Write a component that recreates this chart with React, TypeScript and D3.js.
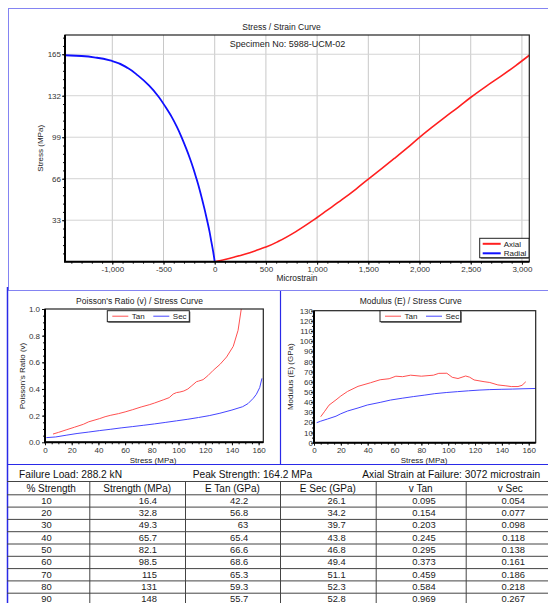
import React, { useEffect, useRef } from "react";
import * as d3 from "d3";

const W = 548;
const H = 603;
const FONT = "'Liberation Sans', Arial, Helvetica, sans-serif";

// ---- Stress / Strain curve ----
const axialStrain = [0, 100, 200, 300, 400, 500, 628, 800, 959, 1100, 1242, 1380, 1500, 1630, 1754, 1880, 1994, 2120, 2250, 2380, 2505, 2650, 2803, 2940, 3072];
const axialStress = [0, 1.8, 3.9, 6.2, 8.8, 11.6, 16.4, 24.3, 32.8, 41, 49.3, 57.8, 65.7, 74, 82.1, 90.5, 98.5, 106.8, 115, 123, 131, 139.5, 148, 156, 164.2];
const radialStrain = [0, -15, -34, -52, -74, -97, -122, -148, -177, -208, -242, -280, -321, -368, -419, -480, -546, -640, -748, -845, -1000, -1150, -1300, -1462];
const radialStress = [0, 8, 16.4, 24.5, 32.8, 41, 49.3, 57.5, 65.7, 74, 82.1, 90.3, 98.5, 107, 115, 123, 131, 140, 148, 153.8, 159.6, 162.2, 163.6, 164.2];
const strainTicks = [-1000, -500, 0, 500, 1000, 1500, 2000, 2500, 3000];
const stressTicks = [33, 66, 99, 132, 165];

// ---- Poisson's ratio / stress ----
const poisTanStress = [6, 10, 16.4, 22, 28.7, 32.8, 41, 45, 49.3, 55, 60, 65.7, 72, 78.5, 82.1, 88.5, 93, 96, 98.5, 101, 104, 107, 110, 113.5, 115, 118.4, 122, 126, 131, 136, 141, 144.6, 147, 149];
const poisTanValue = [0.062, 0.074, 0.095, 0.113, 0.135, 0.154, 0.178, 0.192, 0.203, 0.215, 0.228, 0.245, 0.265, 0.283, 0.295, 0.318, 0.335, 0.362, 0.373, 0.377, 0.385, 0.4, 0.425, 0.455, 0.459, 0.47, 0.5, 0.54, 0.584, 0.64, 0.72, 0.84, 1.0, 1.12];
const poisSecStress = [1, 8, 16.4, 24, 32.8, 41, 49.3, 57, 65.7, 74, 82.1, 90, 98.5, 107, 115, 123, 131, 140, 148, 152, 156, 158.3, 160.8, 162.5];
const poisSecValue = [0.035, 0.04, 0.054, 0.066, 0.077, 0.088, 0.098, 0.108, 0.118, 0.128, 0.138, 0.149, 0.161, 0.173, 0.186, 0.2, 0.218, 0.242, 0.267, 0.29, 0.33, 0.36, 0.41, 0.48];
const poisTicksY = [0, 0.2, 0.4, 0.6, 0.8, 1.0];
const stressTicksX = [0, 20, 40, 60, 80, 100, 120, 140, 160];

// ---- Modulus / stress ----
const modTanStress = [5, 8, 11.2, 16.4, 20, 25, 32.8, 42, 49.3, 56, 61, 66, 72, 80, 89, 93, 99, 103, 107.3, 113, 116, 119.3, 126.7, 131, 137, 143, 147, 152, 155, 157.8];
const modTanValue = [25.6, 31, 37, 42.2, 46, 50.5, 55.5, 59, 62, 63, 65.5, 65, 66.5, 65.5, 66.5, 68.3, 68.4, 64.4, 63.2, 65.7, 64.5, 61.8, 60.1, 59.3, 56.9, 56, 55.3, 55.3, 56.5, 60];
const modSecStress = [2, 5, 10, 16.4, 20, 25, 32.8, 39.7, 49.3, 57, 65.7, 74, 82.1, 90, 98.5, 107, 115, 123, 131, 140, 148, 155, 165];
const modSecValue = [19.7, 21.2, 23.3, 26.1, 28.5, 31.2, 34.2, 37.1, 39.7, 42, 43.8, 45.4, 46.8, 48.3, 49.4, 50.3, 51.1, 51.8, 52.3, 52.6, 52.8, 53.1, 53.4];
const modTicksY = [0, 10, 20, 30, 40, 50, 60, 70, 80, 90, 100, 110, 120, 130];

// ---- Results table ----
const summary = ["Failure Load: 288.2 kN", "Peak Strength: 164.2 MPa", "Axial Strain at Failure: 3072 microstrain"];
const tableHeaders = ["% Strength", "Strength (MPa)", "E Tan (GPa)", "E Sec (GPa)", "v Tan", "v Sec"];
const pctStrength = [10, 20, 30, 40, 50, 60, 70, 80, 90];
const strengthMPa = [16.4, 32.8, 49.3, 65.7, 82.1, 98.5, 115, 131, 148];
const eTan = [42.2, 56.8, 63, 65.4, 66.6, 68.6, 65.3, 59.3, 55.7];
const eSec = [26.1, 34.2, 39.7, 43.8, 46.8, 49.4, 51.1, 52.3, 52.8];
const vTan = [0.095, 0.154, 0.203, 0.245, 0.295, 0.373, 0.459, 0.584, 0.969];
const vSec = [0.054, 0.077, 0.098, 0.118, 0.138, 0.161, 0.186, 0.218, 0.267];

const RED = "#ff2020";
const BLUE = "#1010ff";
const LRED = "#ff5050";
const LBLUE = "#4545ff";

function drawChart(root, cfg) {
  const { id, x, y, xMajor, xMinor, yMajor, yMinor, xFmt, yFmt, grid, series, yPad } = cfg;
  const [x0, x1] = x.range();
  const [y1, y0] = y.range();
  const g = root.append("g");

  g.append("clipPath").attr("id", id).append("rect")
    .attr("x", x0).attr("y", y0).attr("width", x1 - x0).attr("height", y1 - y0);

  g.append("rect").attr("x", x0).attr("y", y0).attr("width", x1 - x0).attr("height", y1 - y0).attr("fill", "#fff");

  if (grid) {
    g.selectAll(".vg").data(xMajor).enter().append("line")
      .attr("x1", d => x(d)).attr("x2", d => x(d)).attr("y1", y0).attr("y2", y1)
      .attr("stroke", "#c8c8c8").attr("stroke-width", 1);
    g.selectAll(".hg").data(yMajor).enter().append("line")
      .attr("y1", d => y(d)).attr("y2", d => y(d)).attr("x1", x0).attr("x2", x1)
      .attr("stroke", "#d4d4d4").attr("stroke-width", 1);
  }

  for (const s of series) {
    const pts = s.xs.map((v, i) => [v, s.ys[i]]);
    g.append("path")
      .attr("clip-path", `url(#${id})`)
      .attr("d", d3.line().curve(s.curve || d3.curveLinear).x(d => x(d[0])).y(d => y(d[1]))(pts))
      .attr("fill", "none").attr("stroke", s.color).attr("stroke-width", s.width)
      .attr("stroke-linejoin", "round");
  }

  // axes
  const styleAxis = (a) => {
    a.select(".domain").remove();
    a.selectAll("line").attr("stroke", "#111");
    a.selectAll("text").attr("font-family", FONT).attr("font-size", 8).attr("fill", "#333");
  };
  g.append("g").attr("transform", `translate(0,${y1})`)
    .call(d3.axisBottom(x).tickValues(xMinor).tickSize(2).tickFormat(() => "")).call(styleAxis);
  g.append("g").attr("transform", `translate(0,${y1})`)
    .call(d3.axisBottom(x).tickValues(xMajor).tickSize(3).tickPadding(2).tickFormat(xFmt)).call(styleAxis);
  g.append("g").attr("transform", `translate(${x0},0)`)
    .call(d3.axisLeft(y).tickValues(yMinor).tickSize(2).tickFormat(() => "")).call(styleAxis);
  g.append("g").attr("transform", `translate(${x0},0)`)
    .call(d3.axisLeft(y).tickValues(yMajor).tickSize(3).tickPadding(yPad).tickFormat(yFmt)).call(styleAxis);

  // frame
  g.append("rect").attr("x", x0).attr("y", y0).attr("width", x1 - x0).attr("height", y1 - y0)
    .attr("fill", "none").attr("stroke", "#222").attr("stroke-width", 1.2);
  g.append("path").attr("d", `M${x0},${y0}V${y1}H${x1}`).attr("fill", "none").attr("stroke", "#000").attr("stroke-width", 2);
  return g;
}

function legend(g, x, y, w, h, items, horizontal) {
  g.append("rect").attr("x", x + 1).attr("y", y + 1).attr("width", w).attr("height", h).attr("fill", "#555");
  g.append("rect").attr("x", x).attr("y", y).attr("width", w).attr("height", h)
    .attr("fill", "#fff").attr("stroke", "#222").attr("stroke-width", 1);
  items.forEach((it, i) => {
    const lx = horizontal ? x + 5 + i * 41 : x + 3;
    const ly = horizontal ? y + h / 2 : y + 5.5 + i * 9.5;
    g.append("line").attr("x1", lx).attr("x2", lx + (horizontal ? 16 : 18)).attr("y1", ly).attr("y2", ly)
      .attr("stroke", it.color).attr("stroke-width", horizontal ? 1 : 2);
    g.append("text").attr("x", lx + (horizontal ? 19.5 : 21)).attr("y", ly + 2.8)
      .attr("font-family", FONT).attr("font-size", 8).attr("fill", "#222").text(it.label);
  });
}

function label(g, x, y, text, size, rotate = false, anchor = "middle") {
  g.append("text")
    .attr("transform", rotate ? `translate(${x},${y}) rotate(-90)` : `translate(${x},${y})`)
    .attr("text-anchor", anchor).attr("font-family", FONT).attr("font-size", size).attr("fill", "#222")
    .text(text);
}

export default function App() {
  const ref = useRef(null);

  useEffect(() => {
    const svg = d3.select(ref.current);
    svg.selectAll("*").remove();
    svg.append("rect").attr("width", W).attr("height", H).attr("fill", "#fff");

    // panel borders
    svg.append("rect").attr("x", 8.5).attr("y", 8.5).attr("width", 560).attr("height", 282)
      .attr("fill", "none").attr("stroke", "#8484f2").attr("stroke-width", 1);
    svg.append("line").attr("x1", 7.5).attr("x2", 7.5).attr("y1", 287).attr("y2", H).attr("stroke", "#2a2ae8").attr("stroke-width", 1.5);
    svg.append("line").attr("x1", 280.5).attr("x2", 280.5).attr("y1", 291).attr("y2", 464.5).attr("stroke", "#2a2ae8").attr("stroke-width", 1.2);
    svg.append("line").attr("x1", 7).attr("x2", W).attr("y1", 464.5).attr("y2", 464.5).attr("stroke", "#2a2ae8").attr("stroke-width", 1.2);

    // ---- top chart ----
    const sx = d3.scaleLinear().domain([-1462, 3072]).range([65, 529.3]);
    const sy = d3.scaleLinear().domain([0, 180.3]).range([261.7, 35]);
    const fmt = d3.formatLocale({ decimal: ".", thousands: ",", grouping: [3], currency: ["", ""], minus: "-" }).format(",");
    const top = drawChart(svg, {
      id: "clipTop", x: sx, y: sy, grid: true,
      xMajor: strainTicks, xMinor: d3.range(-1400, 3072, 100),
      yMajor: stressTicks, yMinor: d3.range(6.6, 180, 6.6),
      xFmt: d => fmt(d), yFmt: d => String(d), yPad: 1,
      series: [
        { xs: axialStrain, ys: axialStress, color: RED, width: 1.6, curve: d3.curveMonotoneY },
        { xs: radialStrain, ys: radialStress, color: BLUE, width: 1.8, curve: d3.curveMonotoneY },
      ],
    });
    label(top, 281.5, 29.5, "Stress / Strain Curve", 8.5);
    label(top, 287.5, 46.5, "Specimen No: 5988-UCM-02", 9);
    label(top, 42.5, 148.3, "Stress (MPa)", 8, true);
    label(top, 297, 281, "Microstrain", 8.4);
    legend(top, 479.7, 238.3, 49.3, 19.4, [{ label: "Axial", color: RED }, { label: "Radial", color: BLUE }], false);

    // ---- Poisson's ratio chart ----
    const px = d3.scaleLinear().domain([0, 163.5]).range([45, 263.3]);
    const py = d3.scaleLinear().domain([0, 1]).range([442.3, 309]);
    const pois = drawChart(svg, {
      id: "clipPois", x: px, y: py, grid: false,
      xMajor: stressTicksX, xMinor: d3.range(5, 163, 5),
      yMajor: poisTicksY, yMinor: d3.range(0.05, 1, 0.05),
      xFmt: d => String(d), yFmt: d3.format(".1f"), yPad: 2,
      series: [
        { xs: poisTanStress, ys: poisTanValue, color: LRED, width: 1 },
        { xs: poisSecStress, ys: poisSecValue, color: LBLUE, width: 1 },
      ],
    });
    label(pois, 139.5, 303.5, "Poisson's Ratio (v) / Stress Curve", 8.5);
    label(pois, 24.5, 376, "Poisson's Ratio (v)", 8, true);
    label(pois, 153, 462.5, "Stress (MPa)", 8);
    legend(pois, 107.3, 310.7, 82, 11, [{ label: "Tan", color: LRED }, { label: "Sec", color: LBLUE }], true);

    // ---- Modulus chart ----
    const mx = d3.scaleLinear().domain([0, 165.2]).range([314, 535.7]);
    const my = d3.scaleLinear().domain([0, 130]).range([442.7, 310.7]);
    const mod = drawChart(svg, {
      id: "clipMod", x: mx, y: my, grid: false,
      xMajor: stressTicksX, xMinor: d3.range(5, 165, 5),
      yMajor: modTicksY, yMinor: d3.range(5, 130, 10),
      xFmt: d => String(d), yFmt: d => String(d), yPad: -2,
      series: [
        { xs: modTanStress, ys: modTanValue, color: LRED, width: 1 },
        { xs: modSecStress, ys: modSecValue, color: LBLUE, width: 1 },
      ],
    });
    label(mod, 410.7, 303.5, "Modulus (E) / Stress Curve", 8.5);
    label(mod, 292.5, 376.7, "Modulus (E) (GPa)", 8, true);
    label(mod, 424, 462.5, "Stress (MPa)", 8);
    legend(mod, 380, 310.7, 80.7, 11, [{ label: "Tan", color: LRED }, { label: "Sec", color: LBLUE }], true);

    // ---- table ----
    const t = svg.append("g").attr("font-family", FONT).attr("fill", "#111");
    const sumX = [19, 192.7, 362.3];
    summary.forEach((s, i) => t.append("text").attr("x", sumX[i]).attr("y", 477.5).attr("font-size", 10.2).text(s));

    const colEdges = [7, 89.3, 185, 280, 375.7, 465.7, 555];
    const rightPad = [37.6, 28, 31.7, 30, 30, 30];
    const rowKeys = ["h", ...pctStrength.map(String)];
    const rowTop = (k) => (k === "h" ? 481 : 494.3 + pctStrength.indexOf(+k) * 12.3);
    const rowH = (k) => (k === "h" ? 13.3 : 12.3);

    rowKeys.forEach((k) => {
      t.append("line").attr("x1", 7).attr("x2", W).attr("y1", rowTop(k) + 0.5).attr("y2", rowTop(k) + 0.5)
        .attr("stroke", "#444").attr("stroke-width", 1);
    });
    colEdges.slice(1, -1).forEach((cx) => {
      t.append("line").attr("x1", cx + 0.5).attr("x2", cx + 0.5).attr("y1", 481).attr("y2", H)
        .attr("stroke", "#444").attr("stroke-width", 1);
    });
    tableHeaders.forEach((h, i) => {
      t.append("text").attr("x", (colEdges[i] + colEdges[i + 1]) / 2 + (i === 0 ? 3 : 0)).attr("y", 491.5)
        .attr("text-anchor", "middle").attr("font-size", 10).text(h);
    });
    const cols = [pctStrength, strengthMPa, eTan, eSec, vTan, vSec];
    pctStrength.forEach((p, r) => {
      const k = String(p);
      cols.forEach((col, c) => {
        t.append("text").attr("x", colEdges[c + 1] - rightPad[c]).attr("y", rowTop(k) + rowH(k) / 2 + 3.4)
          .attr("text-anchor", "end").attr("font-size", 9.4).attr("fill", "#222").text(String(col[r]));
      });
    });
  }, []);

  return (
    <div style={{ position: "absolute", left: 0, top: 0 }}>
      <svg ref={ref} width={W} height={H} style={{ display: "block" }} />
    </div>
  );
}
